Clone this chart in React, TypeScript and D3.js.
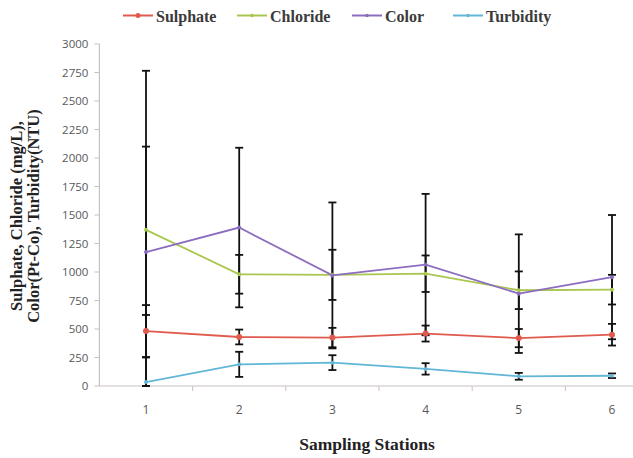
import React from "react";
import * as d3 from "d3";

const stations = ["1", "2", "3", "4", "5", "6"];
const yTicks = [0, 250, 500, 750, 1000, 1250, 1500, 1750, 2000, 2250, 2500, 2750, 3000];

const sulphate = [482, 430, 425, 460, 420, 450];
const chloride = [1370, 980, 975, 985, 840, 845];
const color = [1175, 1390, 970, 1065, 810, 955];
const turbidity = [35, 190, 205, 150, 85, 90];

const sulphateErr = [228, 65, 85, 70, 80, 95];
const chlorideErr = [1395, 170, 220, 160, 165, 130];
const colorErr = [925, 700, 640, 620, 520, 545];
const turbidityErr = [588, 110, 65, 50, 30, 20];

const seriesNames = ["Sulphate", "Chloride", "Color", "Turbidity"];
const seriesColors = ["#e05a4e", "#a9c64f", "#8c6cc0", "#62b6d6"];
const seriesValues = [sulphate, chloride, color, turbidity];
const seriesErrors = [sulphateErr, chlorideErr, colorErr, turbidityErr];

const W = 633;
const H = 458;
const plotTop = 44;
const plotBottom = 386;
const plotLeft = 99.4;

export default function App() {
  const x = d3.scaleBand<string>().domain(stations).range([plotLeft, plotLeft + 6 * 93.2]);
  const y = d3.scaleLinear().domain([0, 3000]).range([plotBottom, plotTop]);
  const cx = (s: string) => (x(s) as number) + x.bandwidth() / 2;
  const axisColor = "#c9c1c1";
  const legendX = [123, 237, 352, 453];

  return (
    <svg width={W} height={H} style={{ position: "absolute", left: 0, top: 0, background: "#fff" }}>
      {/* Legend */}
      {seriesNames.map((n, i) => (
        <g key={n}>
          <line x1={legendX[i]} x2={legendX[i] + 30} y1={15.5} y2={15.5} stroke={seriesColors[i]} strokeWidth={2} />
          <circle cx={legendX[i] + 15} cy={15.5} r={i === 0 ? 2.5 : 1.8} fill={seriesColors[i]} />
          <text x={legendX[i] + 33} y={21.5} fontFamily="Liberation Serif" fontWeight="bold" fontSize={16} fill="#3a3a3a">{n}</text>
        </g>
      ))}

      {/* Y axis */}
      <line x1={plotLeft} x2={plotLeft} y1={plotTop} y2={plotBottom} stroke={axisColor} strokeWidth={1.2} />
      {yTicks.map((t) => (
        <g key={t}>
          <line x1={plotLeft - 5} x2={plotLeft} y1={y(t)} y2={y(t)} stroke={axisColor} strokeWidth={1} />
          <text x={plotLeft - 11} y={y(t) + 4} textAnchor="end" fontFamily="Open Sans" fontSize={11.5} fill="#595959">{t}</text>
        </g>
      ))}

      {/* X axis */}
      <line x1={plotLeft} x2={W} y1={plotBottom} y2={plotBottom} stroke={axisColor} strokeWidth={1.2} />
      {stations.map((s) => (
        <g key={s}>
          <line x1={(x(s) as number) + x.bandwidth()} x2={(x(s) as number) + x.bandwidth()} y1={plotBottom} y2={plotBottom + 5} stroke={axisColor} strokeWidth={1} />
          <text x={cx(s)} y={plotBottom + 28} textAnchor="middle" fontFamily="Open Sans" fontSize={12} fill="#595959">{s}</text>
        </g>
      ))}

      {/* Lines */}
      {seriesValues.map((vals, i) => {
        const line = d3.line<number>().x((_, j) => cx(stations[j])).y((v) => y(v));
        return <path key={i} d={line(vals) as string} fill="none" stroke={seriesColors[i]} strokeWidth={1.8} />;
      })}

      {/* Error bars */}
      {seriesValues.map((vals, i) =>
        vals.map((v, j) => {
          const hi = Math.min(3000, v + seriesErrors[i][j]);
          const lo = Math.max(0, v - seriesErrors[i][j]);
          const px = cx(stations[j]);
          return (
            <g key={`${i}-${j}`} stroke="#111" strokeWidth={1.8}>
              <line x1={px} x2={px} y1={y(hi)} y2={y(lo)} />
              <line x1={px - 4} x2={px + 4} y1={y(hi)} y2={y(hi)} />
              <line x1={px - 4} x2={px + 4} y1={y(lo)} y2={y(lo)} />
            </g>
          );
        })
      )}

      {/* Markers */}
      {seriesValues.map((vals, i) =>
        vals.map((v, j) => (
          <circle key={`m${i}-${j}`} cx={cx(stations[j])} cy={y(v)} r={i === 0 ? 3 : 2} fill={seriesColors[i]} />
        ))
      )}

      {/* Axis titles */}
      <text transform={`translate(22,216) rotate(-90)`} textAnchor="middle" fontFamily="Liberation Serif" fontWeight="bold" fontSize={16.5} fill="#222">Sulphate, Chloride (mg/L),</text>
      <text transform={`translate(39,216) rotate(-90)`} textAnchor="middle" fontFamily="Liberation Serif" fontWeight="bold" fontSize={16.5} fill="#222">Color(Pt-Co), Turbidity(NTU)</text>
      <text x={367} y={450} textAnchor="middle" fontFamily="Liberation Serif" fontWeight="bold" fontSize={17.5} fill="#222">Sampling Stations</text>
    </svg>
  );
}
